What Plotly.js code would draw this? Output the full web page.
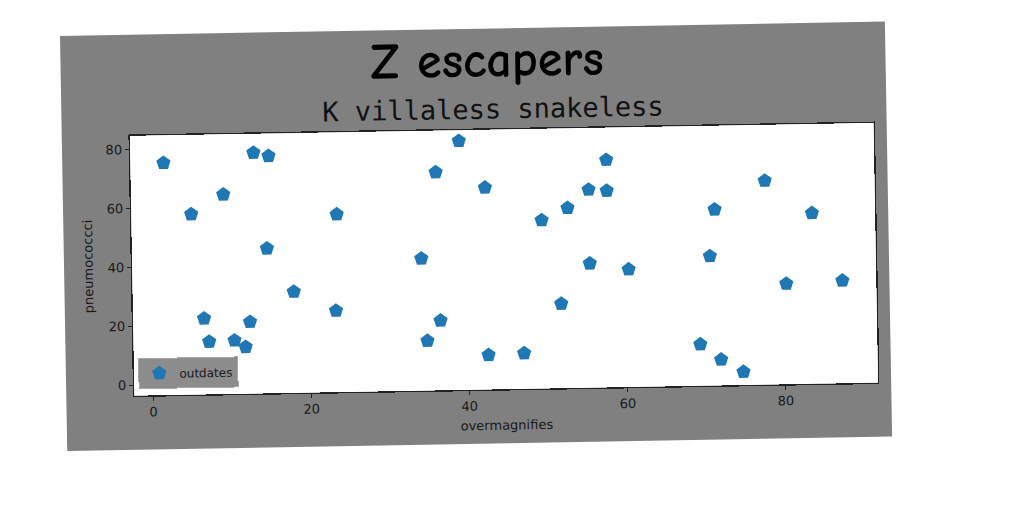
<!DOCTYPE html>
<html>
<head>
<meta charset="utf-8">
<script src="https://cdn.plot.ly/plotly-3.0.1.min.js"></script>
<style>
  html, body { margin: 0; padding: 0; background: #ffffff; width: 1024px; height: 512px; overflow: hidden; }
  #wrap { position: absolute; left: 60px; top: 36px; width: 825px; height: 415px;
          transform: rotate(-1deg); transform-origin: 0 0; }
  #chart { width: 825px; height: 415px; }
</style>
</head>
<body>
<div id="wrap"><div id="chart"></div></div>
<script>
const seriesName = "outdates";
const xValues = [1.8, 5.2, 9.3, 13.2, 15.1, 14.7, 23.6, 18.0, 23.3, 6.6,
                 7.2, 10.4, 11.8, 12.4, 36.5, 34.8, 51.8, 42.5, 47.0, 69.3,
                 71.9, 74.7, 39.2, 36.2, 42.4, 57.8, 55.5, 57.8, 52.8, 49.5,
                 34.2, 55.5, 60.4, 77.8, 71.4, 83.7, 70.7, 80.3, 87.4];
const yValues = [75.3, 57.7, 64.2, 78.2, 77.0, 45.6, 56.8, 30.8, 24.1, 22.2,
                 14.3, 14.6, 12.3, 20.8, 20.1, 13.3, 25.1, 8.1, 8.5, 10.5,
                 5.2, 0.9, 81.0, 70.5, 65.0, 73.7, 63.7, 63.2, 57.6, 53.6,
                 41.3, 38.6, 36.4, 65.7, 56.2, 54.4, 40.4, 30.6, 31.3];
const xTicks = [0, 20, 40, 60, 80];
const yTicks = [0, 20, 40, 60, 80];
const mainTitle = "Z escapers";
const subTitle = "K villaless snakeless";
const xTitle = "overmagnifies";
const yTitle = "pneumococcci";

const trace = {
  x: xValues, y: yValues, name: seriesName, type: "scatter", mode: "markers",
  marker: { symbol: "pentagon", size: 15, color: "#1f77b4", line: { width: 0 } },
  showlegend: true
};

const axisCommon = {
  showgrid: false, zeroline: false, showline: true, mirror: true,
  linecolor: "#222222", linewidth: 1.3,
  ticks: "outside", ticklen: 4, tickwidth: 1, tickcolor: "#222222",
  tickfont: { family: "DejaVu Sans", size: 13, color: "#1a1a1a" }
};

const layout = {
  width: 825, height: 415,
  margin: { l: 68, r: 13, t: 101, b: 54 },
  paper_bgcolor: "#808080", plot_bgcolor: "#ffffff",
  xaxis: Object.assign({}, axisCommon, {
    range: [-2.4, 91.7], tickvals: xTicks, ticktext: xTicks.map(String),
    title: { text: xTitle, standoff: 8, font: { family: "DejaVu Sans", size: 13, color: "#1a1a1a" } }
  }),
  yaxis: Object.assign({}, axisCommon, {
    range: [-3.6, 84.7], tickvals: yTicks, ticktext: yTicks.map(String),
    title: { text: yTitle, standoff: 11, font: { family: "DejaVu Sans", size: 13, color: "#1a1a1a" } }
  }),
  legend: {
    x: 0.006, y: 0.025, xanchor: "left", yanchor: "bottom",
    bgcolor: "#8c8c8c", bordercolor: "#a8a8a8", borderwidth: 1,
    font: { family: "DejaVu Sans", size: 12, color: "#1a1a1a" },
    itemwidth: 30
  },
  annotations: [
    { text: "<b>" + mainTitle + "</b>", xref: "paper", yref: "paper", x: 0.4825, y: 1.265,
      xanchor: "center", yanchor: "middle", showarrow: false,
      font: { family: "Comic Sans MS, Comic Neue, Lato", size: 50, color: "#000000" } },
    { text: subTitle, xref: "paper", yref: "paper", x: 0.488, y: 1.08,
      xanchor: "center", yanchor: "middle", showarrow: false,
      font: { family: "DejaVu Sans Mono", size: 27, color: "#111111" } }
  ]
};

Plotly.newPlot("chart", [trace], layout, { displayModeBar: false, staticPlot: true });
</script>
</body>
</html>
